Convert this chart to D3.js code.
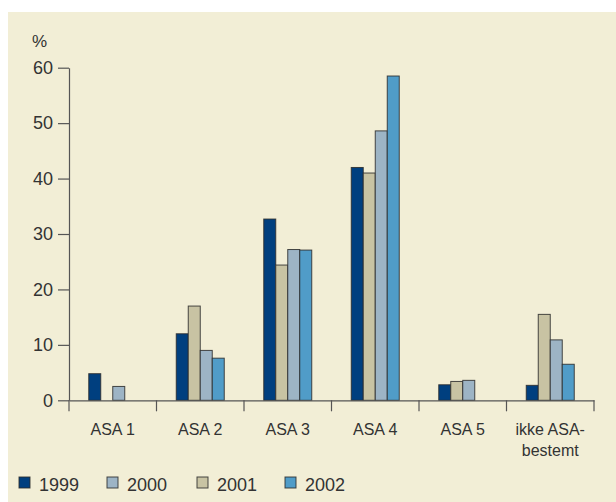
<!DOCTYPE html>
<html>
<head>
<meta charset="utf-8">
<script src="https://cdn.jsdelivr.net/npm/d3@7"></script>
<style>
  html, body { margin: 0; padding: 0; background: #ffffff; }
  svg { display: block; }
  text { font-family: "Liberation Sans", Arial, sans-serif; fill: #333333; }
</style>
</head>
<body>
<svg id="chart" width="616" height="502"></svg>
<script>
// ---- data ----
const categories = ["ASA 1", "ASA 2", "ASA 3", "ASA 4", "ASA 5", "ikke ASA-\nbestemt"];
const years = ["1999", "2000", "2001", "2002"];
const barOrder = ["1999", "2001", "2000", "2002"];
const values1999 = [4.8, 12.0, 32.7, 42.0, 2.8, 2.7];
const values2000 = [2.5, 9.0, 27.2, 48.6, 3.6, 10.9];
const values2001 = [null, 17.0, 24.4, 41.0, 3.4, 15.5];
const values2002 = [null, 7.6, 27.1, 58.5, null, 6.5];
const yTicks = [0, 10, 20, 30, 40, 50, 60];
const yUnit = "%";

const seriesValues = { "1999": values1999, "2000": values2000, "2001": values2001, "2002": values2002 };
const colors = { "1999": "#003f7f", "2000": "#9db4c5", "2001": "#c8c3a3", "2002": "#509cc8" };

// ---- layout ----
const svg = d3.select("#chart");
svg.append("rect").attr("x", 8).attr("y", 12).attr("width", 608).attr("height", 490).attr("fill", "#f2eed6");

const plotLeft = 69, plotRight = 594, plotTop = 67.7, plotBottom = 400.3;

const x0 = d3.scaleBand().domain(categories).range([plotLeft, plotRight]).padding(0);
const bw = x0.bandwidth();
const groupW = 48;
const x1 = d3.scaleBand().domain(barOrder).range([(bw - groupW) / 2, (bw + groupW) / 2]).padding(0);
const y = d3.scaleLinear().domain([0, 60]).range([plotBottom, plotTop]);

// bars
const bars = [];
categories.forEach((c, i) => {
  barOrder.forEach(yr => {
    const v = seriesValues[yr][i];
    if (v != null) bars.push({ c, yr, v });
  });
});

svg.append("g").selectAll("rect").data(bars).join("rect")
  .attr("x", d => x0(d.c) + x1(d.yr))
  .attr("y", d => y(d.v))
  .attr("width", x1.bandwidth())
  .attr("height", d => y(0) - y(d.v))
  .attr("fill", d => colors[d.yr])
  .attr("stroke", "#2a2a2a")
  .attr("stroke-opacity", 0.85)
  .attr("stroke-width", 1);

// y axis
const yAxis = d3.axisLeft(y).tickValues(yTicks).tickSize(11).tickPadding(5).tickSizeOuter(0);
const gy = svg.append("g").attr("transform", `translate(${plotLeft},0)`).call(yAxis);
gy.select(".domain").attr("stroke", "#555").attr("stroke-width", 1.2);
gy.selectAll(".tick line").attr("stroke", "#555").attr("stroke-width", 1.2);
gy.selectAll(".tick text").attr("font-size", 18).attr("fill", "#333").style("font-family", "Liberation Sans, Arial, sans-serif");

// x axis
const xAxis = d3.axisBottom(x0).tickSize(0).tickSizeOuter(0).tickFormat("");
const gx = svg.append("g").attr("transform", `translate(0,${plotBottom})`).call(xAxis);
gx.select(".domain").attr("stroke", "#555").attr("stroke-width", 1.2);
gx.selectAll(".tick").remove();
// boundary ticks between categories
const boundaries = categories.map(c => x0(c)).concat([x0(categories[categories.length - 1]) + bw]);
gx.selectAll("line.bnd").data(boundaries).join("line").attr("class", "bnd")
  .attr("x1", d => d).attr("x2", d => d).attr("y1", 0).attr("y2", 11)
  .attr("stroke", "#555").attr("stroke-width", 1.2);

// category labels
const labels = svg.append("g").selectAll("text").data(categories).join("text")
  .attr("x", d => x0(d) + bw / 2)
  .attr("y", 435)
  .attr("text-anchor", "middle")
  .attr("font-size", 16);
labels.each(function(d) {
  const lines = d.split("\n");
  const t = d3.select(this);
  lines.forEach((ln, k) => {
    t.append("tspan").attr("x", x0(d) + bw / 2).attr("dy", k === 0 ? 0 : 21).text(ln);
  });
});

// unit label
svg.append("text").attr("x", 32).attr("y", 47).attr("font-size", 17).text(yUnit);

// legend
const legendX = [19, 107, 197, 285];
const lg = svg.append("g").selectAll("g").data(years).join("g")
  .attr("transform", (d, i) => `translate(${legendX[i]},477)`);
lg.append("rect").attr("width", 11).attr("height", 11)
  .attr("fill", d => colors[d]).attr("stroke", "#2a2a2a").attr("stroke-opacity", 0.85).attr("stroke-width", 1);
lg.append("text").attr("x", 20).attr("y", 13.5).attr("font-size", 18).text(d => d);
</script>
</body>
</html>
